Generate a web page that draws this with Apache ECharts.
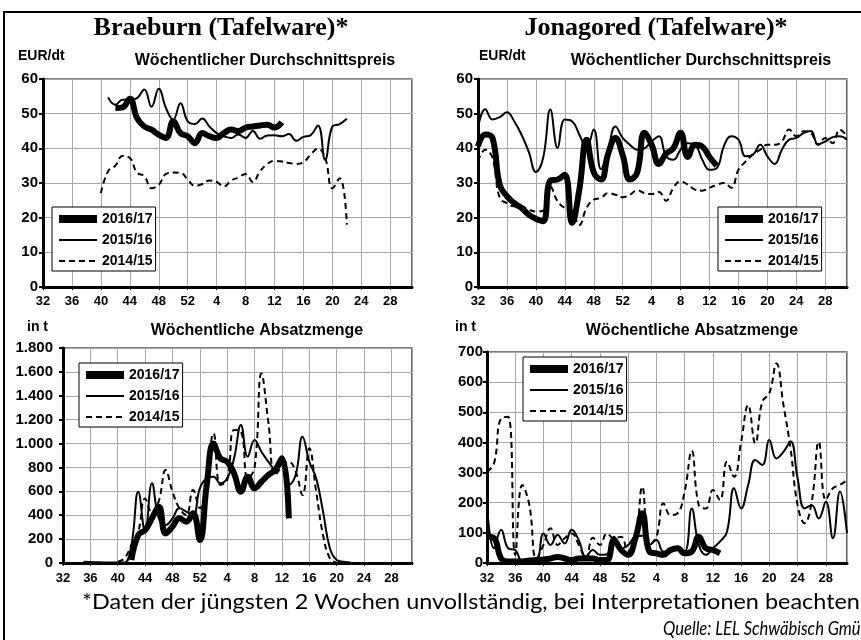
<!DOCTYPE html>
<html><head><meta charset="utf-8">
<script src="https://cdn.jsdelivr.net/npm/echarts@6/dist/echarts.min.js"></script>
<style>html,body{margin:0;padding:0;background:#fff}#c{width:861px;height:640px}</style>
</head><body><div id="c"></div>
<script>
// ---------- DATA ----------
const seasons = ['2016/17', '2015/16', '2014/15'];
const xTickWeeks = [32, 36, 40, 44, 48, 52, 4, 8, 12, 16, 20, 24, 28];

// Braeburn – weekly average price (EUR/dt); values start at the given calendar week
const braeburnPriceStart = [42, 41, 40];
const braeburnPrice1617 = [51.6, 51.8, 54.3, 48.7, 46.3, 45.4, 43.9, 43.0, 47.8, 44.4, 43.5,
  41.5, 44.4, 43.5, 43.0, 44.4, 45.4, 45.0, 46.0, 46.3, 46.6, 46.8, 46.0, 47.5];
const braeburnPrice1516 = [54.7, 52.6, 54.0, 54.0, 54.5, 57.0, 52.0, 57.2, 51.6, 48.3, 53.0, 47.8,
  47.0, 48.6, 46.3, 44.4, 43.5, 43.0, 44.0, 43.0, 45.0, 42.8, 43.7, 43.8, 43.5, 44.1, 42.2, 43.3, 43.8, 46.6, 36.7, 46.3, 47.0, 48.5];
const braeburnPrice1415 = [27.1, 33.4, 35.0, 37.8, 37.2, 33.0, 32.0, 28.5, 29.5, 32.6, 33.0, 32.9, 31.0,
  29.2, 29.7, 30.7, 30.3, 29.0, 30.7, 31.6, 32.6, 30.3, 33.4, 35.5, 36.4, 36.2, 35.8, 35.5, 36.0, 38.2, 39.9, 37.2, 28.5, 31.4, 18.0];

// Jonagored – weekly average price (EUR/dt)
const jonaPriceStart = [32, 32, 32];
const jonaPrice1617 = [40.6, 44.0, 43.0, 29.5, 26.2, 24.2, 22.8, 20.9, 19.7, 19.0, 30.7, 31.0, 32.4, 18.5, 28.0, 42.5, 33.0, 31.0, 38.5, 43.0, 38.0,
  31.0, 33.0, 44.5, 41.0, 35.5, 38.5, 40.0, 44.5, 37.5, 41.0, 40.5, 37.5, 35.0];
const jonaPrice1516 = [45.9, 51.3, 48.3, 49.0, 50.4, 47.8, 44.0, 39.1, 33.2, 37.2, 51.2, 40.1, 48.3, 47.8, 44.0, 40.1, 45.4, 34.0, 40.0, 46.3, 43.0,
  41.0, 39.6, 40.0, 42.0, 43.5, 37.7, 36.7, 39.6, 41.5, 41.0, 36.7, 33.8, 34.3, 40.7, 43.5, 42.5, 37.7, 38.2, 41.0, 37.7, 35.5, 39.6, 42.5, 43.0, 44.4, 45.0, 41.2, 42.0, 43.2, 43.5, 42.5];
const jonaPrice1415 = [36.2, 39.6, 37.2, 25.7, 24.2, 23.3, 23.3, 22.3, 21.8, 22.0, 29.0, 24.7, 22.8, 21.8, 17.9, 22.8, 25.2, 25.7, 27.1, 26.6, 25.9,
  26.6, 27.9, 27.1, 26.8, 27.4, 24.9, 28.6, 30.5, 29.5, 28.1, 27.8, 28.6, 29.5, 30.0, 28.6, 33.8, 36.2, 38.2, 39.6, 41.0, 41.0, 42.0, 45.4, 43.5, 44.9, 44.4, 41.0, 43.0, 41.5, 45.4, 43.5];

// Braeburn – weekly sales (t)
const braeburnSalesStart = [42, 35, 40];
const braeburnSales1617 = [25, 234, 276, 374, 470, 248, 304, 374, 346, 416, 193,
  653, 1000, 876, 848, 750, 597, 722, 625, 680, 736, 778, 876, 374];
const braeburnSales1516 = [10, 8, 6, 5, 5, 5, 5, 150, 597, 262, 667, 374, 318, 374, 458, 430, 402, 625,
  709, 722, 667, 709, 876, 1155, 890, 1030, 932, 848, 792, 820, 653, 736, 1057, 848, 709, 430, 123, 25, 10, 5];
const braeburnSales1415 = [11, 40, 150, 262, 541, 420, 520, 778, 597, 458, 402, 611, 458,
  709, 1085, 653, 695, 1113, 1099, 709, 800, 1587, 1183, 736, 806, 848, 764, 569, 960, 597, 234, 39, 0];

// Jonagored – weekly sales (t)
const jonaSalesStart = [32, 32, 32];
const jonaSales1617 = [87, 82, 15, 5, 5, 5, 8, 10, 12, 15, 20, 15, 10, 15, 15, 15, 10, 10, 76, 43, 27,
  80, 165, 38, 32, 27, 43, 49, 32, 38, 87, 49, 43, 32];
const jonaSales1516 = [192, 49, 110, 49, 43, 4, 2, 4, 98, 60, 93, 65, 110, 76, 21, 43, 27, 29, 87, 49, 60,
  87, 90, 60, 76, 38, 43, 43, 38, 181, 60, 27, 49, 71, 104, 248, 181, 259, 342, 325, 408, 347, 369, 403, 281, 181, 192, 148, 203, 82, 237, 98];
const jonaSales1415 = [303, 331, 480, 485, 27, 259, 192, 15, 60, 115, 60, 82, 98, 60, 15, 84, 60, 98, 82, 87, 40,
  71, 253, 60, 87, 198, 159, 165, 237, 372, 192, 181, 242, 209, 336, 286, 402, 524, 397, 535, 563, 662, 524, 380, 192, 132, 203, 402, 209, 248, 259, 275];

// ---------- HELPERS ----------
function weekToPos(w) { return w >= 32 ? w - 32 : w + 20; }
function posToWeek(p) { return p <= 20 ? p + 32 : p - 20; }
function weekAt(start, i) { let w = start + i; return w > 52 ? w - 52 : w; }
function pairs(start, vals) { return vals.map((v, i) => [weekToPos(weekAt(start, i)), v]); }
function deNum(v) { return v >= 1000 ? Math.floor(v / 1000) + '.' + String(v % 1000).padStart(3, '0') : String(v); }

const AX = "'Liberation Sans', Arial, sans-serif";
const styles = {
  '2016/17': { width: 6, legendWidth: 8, type: 'solid' },
  '2015/16': { width: 2, legendWidth: 2, type: 'solid' },
  '2014/15': { width: 2, legendWidth: 2, type: [6, 4] }
};

const panels = [
  { data: [braeburnPrice1617, braeburnPrice1516, braeburnPrice1415], start: braeburnPriceStart },
  { data: [jonaPrice1617, jonaPrice1516, jonaPrice1415], start: jonaPriceStart },
  { data: [braeburnSales1617, braeburnSales1516, braeburnSales1415], start: braeburnSalesStart },
  { data: [jonaSales1617, jonaSales1516, jonaSales1415], start: jonaSalesStart }
];

const grids = [
  { left: 43, top: 79, width: 369, height: 208 },
  { left: 478, top: 79, width: 369, height: 208 },
  { left: 63, top: 348, width: 349, height: 215 },
  { left: 487, top: 352, width: 360, height: 211 }
].map(g => Object.assign(g, { show: true, borderColor: '#000', borderWidth: 1.2, backgroundColor: 'transparent' }));

const yRanges = [[0, 60, 10], [0, 60, 10], [0, 1800, 200], [0, 700, 100]];
const yMargins = [5, 5, 10, 4];

const xAxes = grids.map((g, i) => ({
  type: 'value', gridIndex: i, min: 0, max: 51, interval: 4,
  axisLine: { lineStyle: { color: '#000', width: 3 } },
  axisTick: { show: true, length: 3, lineStyle: { color: '#000' } },
  splitLine: { show: true, lineStyle: { color: '#a8a8a8', width: 1 } },
  axisLabel: {
    showMaxLabel: false, margin: i < 2 ? 8 : 9, color: '#000', fontFamily: AX, fontWeight: 'bold', fontSize: 13,
    formatter: v => String(posToWeek(v))
  }
}));

const yAxes = grids.map((g, i) => ({
  type: 'value', gridIndex: i, min: yRanges[i][0], max: yRanges[i][1], interval: yRanges[i][2],
  axisLine: { show: true, lineStyle: { color: '#000', width: 3 } },
  axisTick: { show: true, length: 4, lineStyle: { color: '#000', width: 2 } },
  splitLine: { show: true, lineStyle: { color: '#a8a8a8', width: 1 } },
  axisLabel: { margin: yMargins[i], color: '#000', fontFamily: AX, fontWeight: 'bold', fontSize: 15, formatter: v => deNum(v) }
}));

const series = [];
panels.forEach((p, gi) => {
  [2, 1, 0].forEach(si => {
    const name = seasons[si];
    series.push({
      name, type: 'line', xAxisIndex: gi, yAxisIndex: gi, symbol: 'none', smooth: 0.45,
      itemStyle: { color: '#000' },
      lineStyle: { color: '#000', width: styles[name].width, type: styles[name].type },
      data: pairs(p.start[si], p.data[si]), z: 3 - si
    });
  });
});

const legendPos = [[52, 207], [718, 207], [79, 363], [523, 357]];
const legends = legendPos.map(([l, t]) => ({
  left: l, top: t, orient: 'vertical',
  data: seasons.map(n => ({ name: n, lineStyle: { width: styles[n].legendWidth, type: styles[n].type, color: '#000' } })),
  itemWidth: 38, itemHeight: 14, itemGap: 7, padding: [5, 3, 3, 3],
  borderColor: '#000', borderWidth: 1, backgroundColor: '#fff',
  itemStyle: { opacity: 0, borderWidth: 0 },
  lineStyle: { width: 'inherit', color: '#000' },
  textStyle: { color: '#000', fontFamily: AX, fontWeight: 'bold', fontSize: 14 },
  selectedMode: false
}));

function txt(x, y, text, font, align, sx) {
  return { type: 'text', x, y, z: 100, scaleX: sx || 1, style: { text, font, fill: '#000', textAlign: align || 'left', textVerticalAlign: 'middle' } };
}
const TITLE = "bold 26px 'Liberation Serif', serif";
const SUB = "bold 16px 'Liberation Sans', Arial, sans-serif";
const UNIT = "bold 14px 'Liberation Sans', Arial, sans-serif";
const FOOT = "22px Lato, 'Open Sans', sans-serif";
const FOOTI = "italic 19px Lato, 'Open Sans', sans-serif";

const graphics = [
  { type: 'rect', shape: { x: 4, y: 12, width: 900, height: 700 }, style: { fill: 'none', stroke: '#000', lineWidth: 2 }, z: 0 },
  txt(221, 28, 'Braeburn (Tafelware)*', TITLE, 'center'),
  txt(656, 28, 'Jonagored (Tafelware)*', TITLE, 'center'),
  txt(18, 56, 'EUR/dt', UNIT),
  txt(265, 61, 'Wöchentlicher Durchschnittspreis', SUB, 'center'),
  txt(479, 56, 'EUR/dt', UNIT),
  txt(701, 61, 'Wöchentlicher Durchschnittspreis', SUB, 'center'),
  txt(27, 327, 'in t', UNIT),
  txt(257, 331, 'Wöchentliche Absatzmenge', SUB, 'center'),
  txt(455, 327, 'in t', UNIT),
  txt(692, 331, 'Wöchentliche Absatzmenge', SUB, 'center'),
  txt(82, 602, '*Daten der jüngsten 2 Wochen unvollständig, bei Interpretationen beachten', FOOT, 'left', 1.065),
  txt(663, 629, 'Quelle: LEL Schwäbisch Gmünd', FOOTI, 'left', 0.87)
];

const chart = echarts.init(document.getElementById('c'), null, { renderer: 'canvas' });
chart.setOption({
  animation: false,
  backgroundColor: '#fff',
  grid: grids, xAxis: xAxes, yAxis: yAxes, series, legend: legends,
  graphic: { elements: graphics }
});
</script></body></html>
